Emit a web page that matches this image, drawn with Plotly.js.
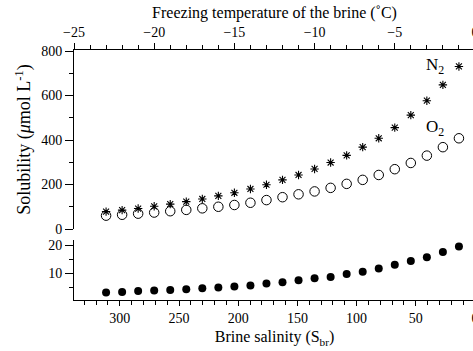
<!DOCTYPE html>
<html>
<head>
<meta charset="utf-8">
<script src="https://cdn.plot.ly/plotly-3.0.1.min.js"></script>
<style>html,body{margin:0;padding:0;background:#fff;overflow:hidden;}#chart{width:475px;height:351px;}</style>
</head>
<body>
<div id="chart"></div>
<script>
// Freezing temperature of the brine (°C) for each sample
const temperature = [-23,-22,-21,-20,-19,-18,-17,-16,-15,-14,-13,-12,-11,-10,-9,-8,-7,-6,-5,-4,-3,-2,-1];
// Solubility (µmol L-1)
const n2 = [78,85,92,102,112,123,135,149,163,180,199,221,243,270,299,331,368,408,456,512,577,648,731];
const o2 = [60,64,69,74,80,86,93,100,108,118,130,143,156,169,185,203,221,243,269,297,330,368,408];
const ar = [3.1,3.3,3.6,3.8,4.0,4.3,4.6,4.9,5.3,5.6,6.3,6.8,7.5,8.2,8.7,9.8,10.6,11.7,13.1,14.4,15.8,17.7,19.7];
// Axis tick labels
const salinityTicks = [300,250,200,150,100,50,0];
const salinityMinor = [330,320,310,290,280,270,260,240,230,220,210,190,180,170,160,140,130,120,110,90,80,70,60,40,30,20,10];
const tempTicks = [-25,-20,-15,-10,-5,0];
const topTicks = [0,200,400,600,800];
const bottomTicks = [10,20];
// salinity units per °C of freezing temperature, as scaled on the two axes of the figure
const salinityPerDegree = 13.548;
const salToTemp = s => -s / salinityPerDegree;

const FONT = 'Liberation Serif, Times New Roman, serif';

const traces = [
  {x: temperature, y: n2, xaxis: 'x', yaxis: 'y', mode: 'markers', name: 'N2',
   marker: {symbol: 'asterisk-open', size: 7, color: '#000', line: {width: 1.1, color: '#000'}}},
  {x: temperature, y: o2, xaxis: 'x', yaxis: 'y', mode: 'markers', name: 'O2',
   marker: {symbol: 'circle-open', size: 9.5, color: '#000', line: {width: 1, color: '#000'}}},
  {x: temperature, y: ar, xaxis: 'x2', yaxis: 'y2', mode: 'markers', name: 'Ar',
   marker: {symbol: 'circle', size: 8, color: '#000'}}
];

const axisCommon = {
  showline: true, linecolor: '#000', linewidth: 1, ticks: 'outside', tickcolor: '#000',
  tickwidth: 1, showgrid: false, zeroline: false, ticklabeloverflow: 'allow',
  tickfont: {family: FONT, size: 14, color: '#000'}
};
const titleFont = {family: FONT, size: 16, color: '#000'};
const xRange = [-25, 0.002];

const layout = {
  width: 475, height: 351,
  margin: {l: 74, r: 0, t: 50, b: 51},
  paper_bgcolor: '#fff', plot_bgcolor: 'rgba(0,0,0,0)',
  showlegend: false,
  font: {family: FONT, color: '#000'},
  // top axis: freezing temperature
  xaxis: Object.assign({}, axisCommon, {
    anchor: 'y', side: 'top', domain: [0, 1], range: xRange,
    tickvals: tempTicks, ticktext: tempTicks.map(v => v < 0 ? '\u2212' + Math.abs(v) : String(v)), ticklen: 6,
    minor: {dtick: 1, tick0: 0, ticks: 'outside', ticklen: 4, tickcolor: '#000', showgrid: false},
    title: {text: 'Freezing temperature of the brine (\u02daC)', font: titleFont, standoff: 2}
  }),
  // bottom axis: brine salinity (labels placed at the matching freezing temperature)
  xaxis2: Object.assign({}, axisCommon, {
    anchor: 'y2', side: 'bottom', domain: [0, 1], range: xRange,
    tickvals: salinityTicks.map(salToTemp), ticktext: salinityTicks.map(String), ticklen: 5,
    minor: {tickvals: salinityMinor.map(salToTemp), ticks: 'outside', ticklen: 4, tickcolor: '#000', showgrid: false},
    title: {text: 'Brine salinity (S<sub>br</sub>)', font: titleFont, standoff: 6}
  }),
  yaxis: Object.assign({}, axisCommon, {
    anchor: 'x', domain: [0.284, 1], range: [0, 805],
    tickvals: topTicks, ticktext: topTicks.map(String), ticklen: 8,
    minor: {dtick: 100, tick0: 0, ticks: 'outside', ticklen: 4, tickcolor: '#000', showgrid: false},
    title: {text: 'Solubility (<i>\u03bc</i>mol L<sup>-1</sup>)', font: {family: FONT, size: 18, color: '#000'}, standoff: 5}
  }),
  yaxis2: Object.assign({}, axisCommon, {
    anchor: 'x2', domain: [0, 0.24], range: [0.4, 22],
    tickvals: bottomTicks, ticktext: bottomTicks.map(String), ticklen: 8,
    minor: {tickvals: [5, 15], ticks: 'outside', ticklen: 4, tickcolor: '#000', showgrid: false}
  }),
  annotations: [
    {xref: 'x', yref: 'y', x: -2.5, y: 734, text: 'N<sub>2</sub>', showarrow: false, font: {family: FONT, size: 17, color: '#000'}},
    {xref: 'x', yref: 'y', x: -2.5, y: 452, text: 'O<sub>2</sub>', showarrow: false, font: {family: FONT, size: 17, color: '#000'}},
    {xref: 'x2', yref: 'y2', x: -2.5, y: 23.3, text: 'Ar', showarrow: false, font: {family: FONT, size: 17, color: '#000'}}
  ]
};

Plotly.newPlot('chart', traces, layout, {staticPlot: true, displayModeBar: false});
</script>
</body>
</html>
